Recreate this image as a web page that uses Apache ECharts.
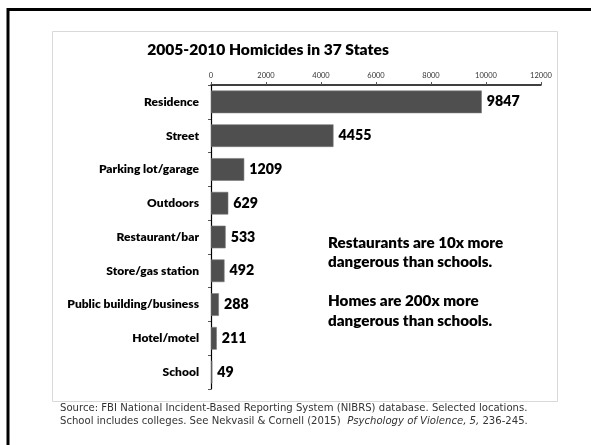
<!DOCTYPE html>
<html>
<head>
<meta charset="utf-8">
<script src="https://cdn.jsdelivr.net/npm/echarts@6/dist/echarts.min.js"></script>
<style>
  html, body { margin: 0; padding: 0; background: #fff; }
  #chart { width: 591px; height: 445px; }
</style>
</head>
<body>
<div id="chart"></div>
<script>
// Homicide counts by location, 2005-2010, 37 states (NIBRS)
const locations = [
  'Residence', 'Street', 'Parking lot/garage', 'Outdoors', 'Restaurant/bar',
  'Store/gas station', 'Public building/business', 'Hotel/motel', 'School'
];
const homicides = [9847, 4455, 1209, 629, 533, 492, 288, 211, 49];
const axisMax = 12000;
const axisStep = 2000;

const chartTitle = '2005-2010 Homicides in 37 States';
const noteLines = [
  'Restaurants are 10x more', 'dangerous than schools.',
  '', 'Homes are 200x more', 'dangerous than schools.'
];
const sourceLine1 = 'Source: FBI National Incident-Based Reporting System (NIBRS) database. Selected locations.';
const sourceLine2a = 'School includes colleges. See Nekvasil & Cornell (2015)  ';
const sourceLine2b = 'Psychology of Violence, 5,';
const sourceLine2c = ' 236-245.';

const labelFont = 'Lato';
const footFont = 'DejaVu Sans';
const heavy = 800;

const chart = echarts.init(document.getElementById('chart'), null, { renderer: 'canvas' });

chart.setOption({
  backgroundColor: '#ffffff',
  animation: false,
  grid: { left: 211, top: 85, width: 330, height: 304, containLabel: false },
  xAxis: {
    type: 'value',
    position: 'top',
    min: 0,
    max: axisMax,
    interval: axisStep,
    axisLine: { show: true, lineStyle: { color: '#000', width: 1.5 } },
    axisTick: { show: true, length: 3, lineStyle: { color: '#555' } },
    axisLabel: {
      color: '#333', fontSize: 7.5, fontFamily: labelFont, margin: 5,
      formatter: (v) => String(v)
    },
    splitLine: { show: false }
  },
  yAxis: {
    type: 'category',
    inverse: true,
    data: locations,
    axisLine: { show: true, lineStyle: { color: '#000', width: 1.2 } },
    axisTick: { show: true, length: 3, lineStyle: { color: '#555' } },
    axisLabel: {
      color: '#000', fontSize: 12, fontWeight: heavy,
      fontFamily: labelFont, margin: 12
    }
  },
  series: [{
    type: 'bar',
    data: homicides,
    barCategoryGap: '33%',
    itemStyle: { color: '#4f4f4f', borderColor: '#7a7a7a', borderWidth: 0.6 },
    label: {
      show: true, position: 'right', distance: 5,
      color: '#000', fontSize: 14.2, fontWeight: heavy, fontFamily: labelFont
    }
  }],
  graphic: [
    // slide frame (top and left edges)
    { type: 'line', shape: { x1: 8, y1: 9.5, x2: 600, y2: 9.5 },
      style: { stroke: '#000', lineWidth: 3 }, silent: true },
    { type: 'line', shape: { x1: 8, y1: 8, x2: 8, y2: 460 },
      style: { stroke: '#000', lineWidth: 3 }, silent: true },
    // chart panel border
    { type: 'rect', shape: { x: 52.5, y: 31.5, width: 505, height: 370 },
      style: { fill: 'none', stroke: '#d9d9d9', lineWidth: 1 }, z: -1, silent: true },
    // chart title
    { type: 'text', x: 268, y: 50,
      style: { text: chartTitle, fill: '#000', fontSize: 15.6, fontWeight: heavy,
               fontFamily: labelFont, align: 'center', verticalAlign: 'middle' } },
    // annotation
    { type: 'text', x: 328, y: 233,
      style: { text: noteLines.join('\n'), fill: '#000',
               fontSize: 15.2, fontWeight: heavy, fontFamily: labelFont,
               lineHeight: 19.5, align: 'left', verticalAlign: 'top' } },
    // source note
    { type: 'text', x: 60, y: 408,
      style: { text: sourceLine1, fill: '#333', fontSize: 10.1, fontFamily: footFont,
               align: 'left', verticalAlign: 'middle' } },
    { type: 'text', x: 60, y: 421,
      style: {
        text: '{n|' + sourceLine2a + '}{i|' + sourceLine2b + '}{n|' + sourceLine2c + '}',
        align: 'left', verticalAlign: 'middle',
        rich: {
          n: { fill: '#333', fontSize: 10.1, fontFamily: footFont },
          i: { fill: '#333', fontSize: 10.1, fontFamily: footFont, fontStyle: 'italic' }
        }
      } }
  ]
});
</script>
</body>
</html>
